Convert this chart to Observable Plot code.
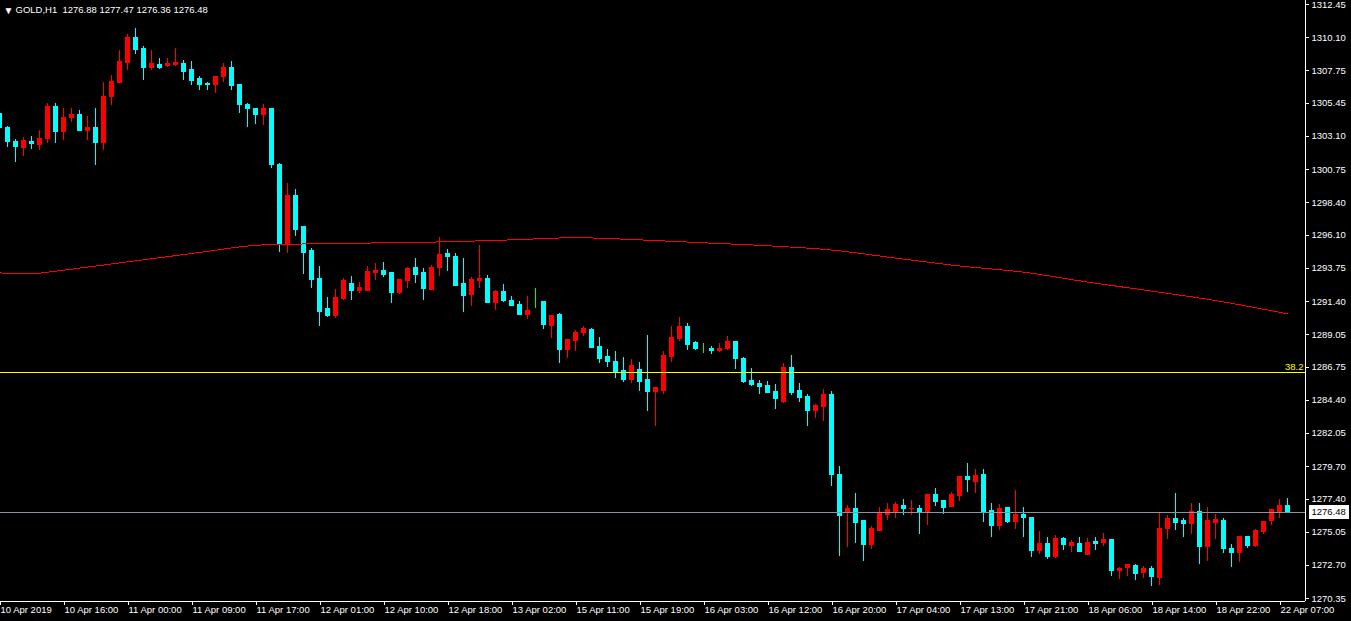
<!DOCTYPE html>
<html>
<head>
<meta charset="utf-8">
<script src="https://cdn.jsdelivr.net/npm/d3@7"></script>
<script src="https://cdn.jsdelivr.net/npm/@observablehq/plot@0.6"></script>
<style>
  html, body { margin: 0; padding: 0; background: #000; overflow: hidden; }
</style>
</head>
<body>
<div id="chart"></div>
<script>
// ---- Data (GOLD, H1) ----
const symbol = "GOLD,H1";
const O = [1304.70,1303.73,1302.67,1302.26,1302.74,1302.48,1302.90,1305.22,1303.40,1304.44,1304.65,1303.52,1303.73,1302.62,1305.86,1306.92,1308.29,1310.11,1309.33,1307.98,1308.13,1308.06,1308.13,1308.20,1307.84,1307.14,1306.85,1306.71,1307.28,1307.98,1306.71,1305.36,1305.01,1304.65,1305.01,1301.11,1295.44,1298.91,1296.65,1294.95,1293.03,1290.90,1290.34,1291.61,1292.61,1292.18,1292.11,1293.39,1293.53,1293.39,1291.97,1292.82,1293.74,1293.39,1292.25,1293.74,1294.80,1294.59,1292.61,1291.83,1292.82,1293.03,1291.33,1292.04,1291.47,1291.12,1290.41,1291.37,1291.40,1289.70,1290.41,1287.93,1288.57,1289.20,1289.35,1288.21,1287.50,1287.08,1286.51,1285.87,1286.58,1285.87,1285.02,1285.09,1287.50,1288.71,1289.56,1288.43,1288.07,1288.00,1287.86,1288.07,1288.50,1287.36,1285.80,1285.52,1285.38,1285.02,1284.31,1286.72,1285.09,1284.60,1283.61,1283.89,1284.81,1279.14,1276.38,1276.73,1275.81,1274.11,1275.17,1276.30,1276.45,1276.94,1276.66,1276.66,1276.45,1277.72,1277.23,1276.87,1277.65,1278.93,1278.64,1279.07,1276.52,1275.46,1276.80,1275.74,1276.30,1276.09,1273.75,1274.25,1273.26,1274.60,1274.04,1274.25,1273.47,1274.39,1274.32,1274.53,1272.27,1272.48,1272.69,1272.19,1272.41,1271.77,1275.31,1276.02,1275.81,1275.60,1276.45,1273.97,1275.67,1275.88,1273.83,1273.61,1274.68,1274.04,1275.10,1275.88,1276.45,1276.88];
const H = [1304.80,1303.80,1302.88,1303.02,1303.10,1303.52,1305.43,1305.43,1305.08,1305.08,1304.94,1304.51,1305.08,1306.92,1307.42,1309.19,1310.32,1310.75,1309.47,1309.19,1308.62,1308.62,1309.33,1308.48,1308.41,1307.35,1306.92,1307.28,1308.27,1308.41,1306.71,1305.43,1305.01,1305.36,1305.01,1301.18,1299.76,1299.34,1296.72,1295.16,1293.88,1291.68,1292.25,1293.03,1293.17,1292.75,1293.88,1294.10,1294.17,1293.39,1292.96,1293.81,1294.45,1293.74,1293.95,1295.94,1295.09,1294.80,1294.45,1293.10,1295.37,1293.24,1292.18,1292.61,1291.76,1291.40,1291.76,1292.32,1291.40,1290.41,1290.55,1288.64,1289.35,1289.63,1289.49,1288.85,1288.00,1287.86,1287.43,1287.29,1287.08,1288.99,1285.31,1287.86,1289.63,1290.27,1289.84,1288.57,1288.43,1288.21,1288.43,1288.92,1288.50,1287.43,1286.65,1285.80,1285.73,1285.52,1287.01,1287.57,1285.59,1284.81,1284.10,1285.16,1285.02,1279.71,1276.94,1277.79,1275.88,1275.46,1276.80,1277.09,1277.16,1277.37,1277.30,1276.94,1277.72,1278.15,1277.23,1277.87,1278.93,1279.92,1279.49,1279.49,1277.09,1277.01,1276.80,1278.01,1276.80,1276.09,1275.10,1274.68,1274.82,1274.68,1274.46,1274.68,1274.60,1274.68,1274.96,1274.53,1272.55,1272.76,1272.76,1272.62,1272.62,1276.38,1276.23,1277.79,1276.02,1277.09,1277.09,1276.80,1276.30,1276.02,1274.18,1274.75,1274.68,1275.24,1275.81,1276.66,1277.37,1277.47];
const L = [1303.52,1302.33,1301.27,1301.70,1302.19,1302.10,1302.62,1302.62,1302.81,1304.11,1303.45,1302.81,1301.04,1302.10,1305.29,1306.85,1307.77,1308.91,1307.06,1307.77,1307.84,1307.98,1308.06,1307.06,1306.71,1306.36,1306.36,1306.14,1306.92,1306.36,1304.73,1303.73,1303.95,1303.88,1300.83,1294.87,1294.80,1296.01,1293.31,1292.32,1289.63,1290.27,1290.20,1291.47,1291.47,1291.97,1292.11,1292.89,1293.10,1291.26,1291.90,1292.32,1292.68,1291.47,1292.18,1293.17,1293.53,1292.53,1290.62,1291.05,1292.32,1291.26,1290.76,1291.33,1291.05,1290.41,1290.13,1290.91,1289.42,1288.78,1287.01,1287.36,1287.86,1288.92,1288.07,1287.01,1286.72,1285.94,1285.66,1285.59,1285.02,1283.61,1282.54,1284.81,1287.08,1288.57,1287.93,1287.93,1287.72,1287.65,1287.79,1287.93,1286.58,1285.59,1285.38,1284.81,1284.88,1283.75,1284.17,1284.74,1284.24,1282.54,1283.11,1282.90,1278.29,1273.33,1273.97,1274.25,1272.97,1273.83,1275.10,1275.88,1276.02,1276.23,1276.23,1274.89,1275.53,1276.87,1276.30,1276.80,1277.23,1277.87,1277.79,1275.74,1274.68,1275.17,1275.67,1275.24,1274.68,1273.26,1273.47,1273.12,1273.19,1273.75,1273.61,1273.61,1273.47,1273.75,1274.04,1271.91,1271.70,1271.91,1271.63,1271.77,1271.20,1271.27,1274.53,1275.17,1274.68,1274.89,1272.76,1272.97,1274.53,1273.54,1272.55,1272.90,1273.90,1273.97,1274.89,1275.53,1276.02,1276.36];
const C = [1303.68,1302.69,1302.33,1302.81,1302.55,1302.95,1305.22,1303.38,1304.44,1304.65,1303.52,1303.73,1302.62,1305.86,1306.99,1308.41,1310.11,1309.26,1307.98,1308.20,1307.98,1308.20,1308.27,1307.70,1307.06,1306.78,1306.71,1307.28,1307.98,1306.64,1305.36,1305.01,1304.65,1305.01,1301.04,1295.44,1298.91,1296.50,1294.87,1292.89,1290.69,1290.34,1291.68,1292.82,1292.11,1292.39,1293.46,1293.53,1293.31,1291.97,1292.96,1293.67,1293.31,1292.32,1293.74,1294.73,1294.52,1292.53,1291.76,1292.89,1293.03,1291.26,1292.04,1291.47,1291.05,1290.41,1290.76,1291.37,1289.77,1290.34,1287.93,1288.64,1289.20,1289.42,1288.14,1287.36,1287.08,1286.44,1285.87,1286.80,1285.73,1285.02,1285.24,1287.57,1288.78,1289.56,1288.35,1288.07,1288.07,1287.86,1288.00,1288.50,1287.36,1285.73,1285.45,1285.31,1284.95,1284.46,1286.72,1284.95,1284.53,1283.61,1283.96,1284.74,1279.07,1276.23,1276.73,1275.67,1274.11,1275.31,1276.38,1276.59,1277.01,1276.66,1276.73,1276.45,1277.72,1277.16,1276.80,1277.72,1278.93,1278.72,1279.00,1276.45,1275.46,1276.73,1275.74,1276.30,1276.09,1273.75,1274.25,1273.26,1274.60,1274.11,1274.32,1273.68,1274.32,1274.25,1274.53,1272.27,1272.41,1272.76,1272.12,1272.41,1271.91,1275.31,1276.02,1275.67,1275.60,1276.45,1273.97,1275.81,1275.95,1273.83,1273.61,1274.68,1274.04,1275.17,1275.74,1276.59,1276.94,1276.48];

// Moving average (read at every 8th bar)
const maIdx = [0,4,8,16,24,32,40,48,56,64,72,80,88,96,104,112,120,128,136,144,152,160,161];
const maVal = [1293.43,1293.37,1293.62,1294.21,1294.80,1295.38,1295.49,1295.56,1295.63,1295.77,1295.92,1295.77,1295.56,1295.35,1295.05,1294.48,1293.92,1293.48,1292.78,1292.14,1291.47,1290.64,1290.53];

// Fibonacci level
const fibLevels = [1286.40];
const fibLabels = ["38.2"];

// Axis ticks
const yTicks = [1312.45,1310.10,1307.75,1305.45,1303.10,1300.75,1298.40,1296.10,1293.75,1291.40,1289.05,1286.75,1284.40,1282.05,1279.70,1277.40,1275.05,1272.70,1270.35];
const xLabels = ["10 Apr 2019","10 Apr 16:00","11 Apr 00:00","11 Apr 09:00","11 Apr 17:00","12 Apr 01:00","12 Apr 10:00","12 Apr 18:00","13 Apr 02:00","15 Apr 11:00","15 Apr 19:00","16 Apr 03:00","16 Apr 12:00","16 Apr 20:00","17 Apr 04:00","17 Apr 13:00","17 Apr 21:00","18 Apr 06:00","18 Apr 14:00","18 Apr 22:00","22 Apr 07:00"];
const xLabelIdx = xLabels.map((_, k) => k * 8);

// ---- Build ----
const n = O.length;
const last = n - 1;
const candles = O.map((o, i) => ({i, o, h: H[i], l: L[i], c: C[i]}));
const colorOf = d => d.c > d.o ? "#FF0000" : d.c < d.o ? "#00FFFF" : "#00FF00";
const bid = C[last];
const xDomain = [0.125, 163.25];
const yDomain = [1270.1396, 1312.7335];
const xMax = xDomain[1];
const header = `${symbol}\u00a0\u00a0${O[last].toFixed(2)} ${H[last].toFixed(2)} ${L[last].toFixed(2)} ${C[last].toFixed(2)}`;
const labelOf = new Map(xLabelIdx.map((v, k) => [v, xLabels[k]]));

const chart = Plot.plot({
  width: 1351,
  height: 621,
  marginLeft: 0,
  marginRight: 46,
  marginTop: 0,
  marginBottom: 20,
  x: {domain: xDomain},
  y: {domain: yDomain},
  color: {type: "identity"},
  style: {
    background: "#000000",
    color: "#FFFFFF",
    fontFamily: "'Liberation Sans', 'DejaVu Sans', sans-serif",
    fontSize: "9.5px",
    shapeRendering: "crispEdges"
  },
  marks: [
    // candle wicks
    Plot.ruleX(candles, {x: "i", y1: "l", y2: "h", stroke: colorOf}),
    // candle bodies
    Plot.rect(candles, {x1: d => d.i - 0.25, x2: d => d.i + 0.25, y1: "o", y2: "c", fill: colorOf, stroke: colorOf}),
    // moving average
    Plot.line(maIdx.map((v, k) => ({i: v, p: maVal[k]})), {x: "i", y: "p", stroke: "#FF0000", strokeWidth: 1, curve: "catmull-rom"}),
    // fibonacci level
    Plot.ruleY(fibLevels, {stroke: "#FFFF00"}),
    Plot.text(fibLevels, {x: () => xMax, y: d => d, text: (d, k) => fibLabels[k], textAnchor: "end", dx: -2, dy: -5, fill: "#FFFF00"}),
    // bid line
    Plot.ruleY([bid], {stroke: "#8A95A3"}),
    // axes
    Plot.ruleX([xMax], {stroke: "#FFFFFF"}),
    Plot.ruleY([yDomain[0]], {stroke: "#FFFFFF"}),
    Plot.axisY({anchor: "right", ticks: yTicks, tickFormat: d => d.toFixed(2), tickSize: 3, tickPadding: 3, color: "#FFFFFF", label: null}),
    Plot.axisX({anchor: "bottom", ticks: xLabelIdx, tickFormat: d => labelOf.get(d), tickSize: 4, tickPadding: 1, textAnchor: "start", dx: 1, color: "#FFFFFF", label: null}),
    // current price tag
    Plot.rect([bid], {x1: () => xMax, x2: () => xMax, y1: d => d, y2: d => d, insetLeft: 4, insetRight: -44, insetTop: -7, insetBottom: -7, fill: "#FFFFFF"}),
    Plot.text([bid], {x: () => xMax, y: d => d, text: d => d.toFixed(2), textAnchor: "start", dx: 6, fill: "#000000"}),
    // header
    Plot.text(["\u25BC"], {frameAnchor: "top-left", dx: 3, dy: 6, fontSize: 10, textAnchor: "start", fill: "#FFFFFF"}),
    Plot.text([header], {frameAnchor: "top-left", dx: 15, dy: 6, textAnchor: "start", fill: "#FFFFFF"})
  ]
});
document.getElementById("chart").appendChild(chart);
</script>
</body>
</html>
